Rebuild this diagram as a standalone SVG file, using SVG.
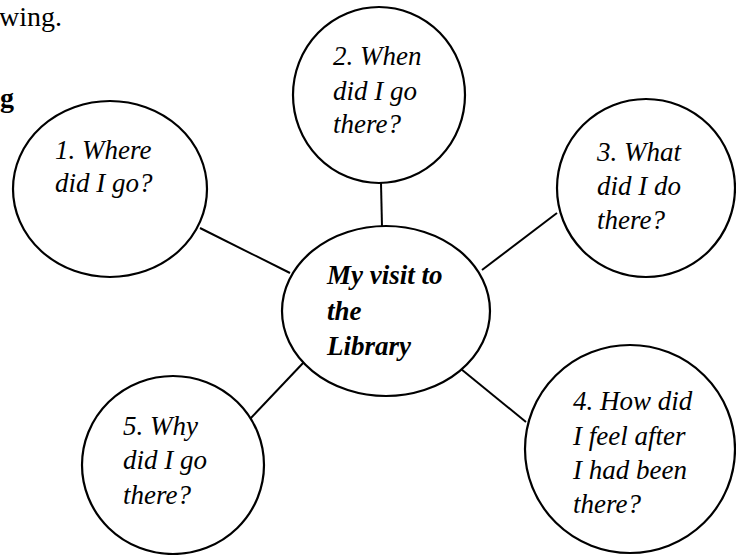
<svg xmlns="http://www.w3.org/2000/svg" width="736" height="555" viewBox="0 0 736 555">
<style>
.shape{fill:#fff;stroke:#000;stroke-width:2.2}
.conn line{stroke:#000;stroke-width:2}
.t{font-family:"Liberation Serif","Times New Roman",serif;font-style:italic;font-size:27px;fill:#000}
.b{font-weight:bold}
.p{font-family:"Liberation Serif","Times New Roman",serif;font-size:28px;fill:#000}
</style>
<rect width="736" height="555" fill="#fff"/>
<text class="p" x="-1" y="26">wing.</text>
<text class="p b" x="0" y="107">g</text>
<g id="connectors" class="conn">
<line x1="200" y1="228" x2="290" y2="273"/>
<line x1="381" y1="183" x2="382" y2="227"/>
<line x1="482" y1="270" x2="557" y2="213"/>
<line x1="461" y1="369" x2="526" y2="422"/>
<line x1="250" y1="419" x2="304" y2="362"/>
</g>
<g id="node-center">
<ellipse class="shape" cx="386" cy="311" rx="104" ry="85"/>
<text class="t b" x="327" y="284">My visit to</text>
<text class="t b" x="327" y="320">the</text>
<text class="t b" x="327" y="355">Library</text>
</g>
<g id="node-1">
<ellipse class="shape" cx="110" cy="189" rx="97" ry="88"/>
<text class="t" x="55" y="159">1. Where</text>
<text class="t" x="55" y="192">did I go?</text>
</g>
<g id="node-2">
<ellipse class="shape" cx="379" cy="95" rx="86" ry="88"/>
<text class="t" x="333" y="65">2. When</text>
<text class="t" x="333" y="100">did I go</text>
<text class="t" x="333" y="133">there?</text>
</g>
<g id="node-3">
<ellipse class="shape" cx="646" cy="188" rx="89" ry="89"/>
<text class="t" x="597" y="161">3. What</text>
<text class="t" x="597" y="195">did I do</text>
<text class="t" x="597" y="229">there?</text>
</g>
<g id="node-4">
<ellipse class="shape" cx="630" cy="449" rx="105" ry="104"/>
<text class="t" x="573" y="410">4. How did</text>
<text class="t" x="573" y="445">I feel after</text>
<text class="t" x="573" y="479">I had been</text>
<text class="t" x="573" y="513">there?</text>
</g>
<g id="node-5">
<ellipse class="shape" cx="173" cy="465" rx="91" ry="89"/>
<text class="t" x="123" y="435">5. Why</text>
<text class="t" x="123" y="469">did I go</text>
<text class="t" x="123" y="504">there?</text>
</g>
</svg>
